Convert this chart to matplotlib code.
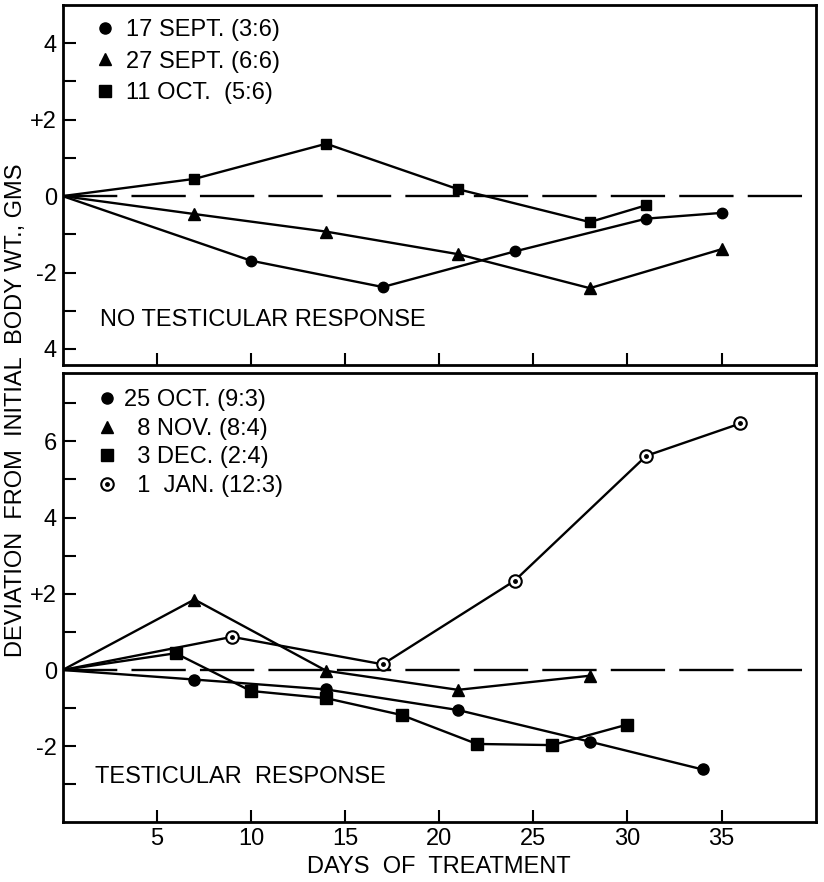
import matplotlib
matplotlib.use("Agg")
import matplotlib.pyplot as plt
from matplotlib.lines import Line2D
from matplotlib.ticker import FixedLocator, FixedFormatter

plt.rcParams['font.family'] = ['Liberation Sans', 'DejaVu Sans']

# top panel: no testicular response
sep17_days = [0, 10, 17, 24, 31, 35]
sep17_vals = [0, -1.69, -2.38, -1.45, -0.59, -0.44]
sep27_days = [0, 7, 14, 21, 28, 35]
sep27_vals = [0, -0.47, -0.93, -1.52, -2.41, -1.39]
oct11_days = [0, 7, 14, 21, 28, 31]
oct11_vals = [0, 0.45, 1.37, 0.18, -0.68, -0.24]

# bottom panel: testicular response
oct25_days = [0, 7, 14, 21, 28, 34]
oct25_vals = [0, -0.25, -0.51, -1.05, -1.88, -2.61]
nov8_days = [0, 7, 14, 21, 28]
nov8_vals = [0, 1.85, -0.02, -0.52, -0.15]
dec3_days = [0, 6, 10, 14, 18, 22, 26, 30]
dec3_vals = [0, 0.44, -0.55, -0.74, -1.18, -1.94, -1.97, -1.43]
jan1_days = [0, 9, 17, 24, 31, 36]
jan1_vals = [0, 0.87, 0.15, 2.34, 5.62, 6.47]

x_ticks = [5, 10, 15, 20, 25, 30, 35]
top_yticks = [-4, -2, 0, 2, 4]
top_ylabels = ['4', '-2', '0', '+2', '4']
bot_yticks = [-2, 0, 2, 4, 6]
bot_ylabels = ['-2', '0', '+2', '4', '6']

FS = 17
LW = 1.7

fig = plt.figure(figsize=(8.24, 8.82), dpi=100)
ax1 = fig.add_axes([0.076, 0.5862, 0.914, 0.4081])
ax2 = fig.add_axes([0.076, 0.0675, 0.914, 0.5099])

for ax in (ax1, ax2):
    ax.set_xlim(0, 40)
    for s in ax.spines.values():
        s.set_linewidth(2.0)
    ax.xaxis.set_major_locator(FixedLocator(x_ticks))
    ax.tick_params(which='both', direction='in', length=9, width=1.5,
                   labelsize=FS, top=False, right=False, pad=4)
    zl = ax.axhline(0, color='black', lw=LW, zorder=1)
    zl.set_dashes((23, 6))

ax1.set_ylim(-4.42, 5.0)
ax1.yaxis.set_major_locator(FixedLocator(top_yticks))
ax1.yaxis.set_major_formatter(FixedFormatter(top_ylabels))
ax1.yaxis.set_minor_locator(FixedLocator([-3, -1, 1, 3]))
ax1.tick_params(axis='x', labelbottom=False)

ax2.set_ylim(-4.0, 7.8)
ax2.yaxis.set_major_locator(FixedLocator(bot_yticks))
ax2.yaxis.set_major_formatter(FixedFormatter(bot_ylabels))
ax2.yaxis.set_minor_locator(FixedLocator([-3, -1, 1, 3, 5, 7]))

kw = dict(color='black', lw=LW, zorder=3)
ax1.plot(sep17_days, sep17_vals, marker='o', ms=7.5, markevery=slice(1, None), **kw)
ax1.plot(sep27_days, sep27_vals, marker='^', ms=8.5, markevery=slice(1, None), **kw)
ax1.plot(oct11_days, oct11_vals, marker='s', ms=7.5, markevery=slice(1, None), **kw)

ax2.plot(oct25_days, oct25_vals, marker='o', ms=8, markevery=slice(1, None), **kw)
ax2.plot(nov8_days, nov8_vals, marker='^', ms=9, markevery=slice(1, None), **kw)
ax2.plot(dec3_days, dec3_vals, marker='s', ms=8, markevery=slice(1, None), **kw)
ax2.plot(jan1_days, jan1_vals, marker='o', ms=9, mfc='white', mec='black', mew=1.5,
         markevery=slice(1, None), **kw)
ax2.plot(jan1_days[1:], jan1_vals[1:], ls='none', marker='o', ms=2.5, color='black', zorder=4)

def mk(m, ms=8, **extra):
    return Line2D([], [], ls='none', marker=m, ms=ms, color='black', **extra)

h_top = [mk('o'), mk('^', 9), mk('s')]
lab_top = ['17 SEPT. (3:6)', '27 SEPT. (6:6)', '11 OCT.  (5:6)']
ax1.legend(h_top, lab_top, loc='upper left', bbox_to_anchor=(0.025, 1.0),
           frameon=False, fontsize=FS, handlelength=0.8, handletextpad=0.5,
           labelspacing=0.4, borderaxespad=0.2)

jan_h = (mk('o', 9, mfc='white', mec='black', mew=1.5), mk('o', 2.5))
h_bot = [mk('o'), mk('^', 9), mk('s'), jan_h]
lab_bot = ['25 OCT. (9:3)', '  8 NOV. (8:4)', '  3 DEC. (2:4)', '  1  JAN. (12:3)']
ax2.legend(h_bot, lab_bot, loc='upper left', bbox_to_anchor=(0.025, 1.0),
           frameon=False, fontsize=FS, handlelength=0.8, handletextpad=0.3,
           labelspacing=0.28, borderaxespad=0.3)

ax1.text(0.05, 0.125, 'NO TESTICULAR RESPONSE', transform=ax1.transAxes,
         fontsize=FS, va='center', ha='left')
ax2.text(0.043, 0.1, 'TESTICULAR  RESPONSE', transform=ax2.transAxes,
         fontsize=FS, va='center', ha='left')

ax2.set_xlabel('DAYS  OF  TREATMENT', fontsize=FS, labelpad=4)
fig.text(0.02, 0.535, 'DEVIATION  FROM  INITIAL  BODY WT., GMS', rotation=90,
         fontsize=FS, ha='center', va='center')

fig.savefig('out.png', dpi=100)
